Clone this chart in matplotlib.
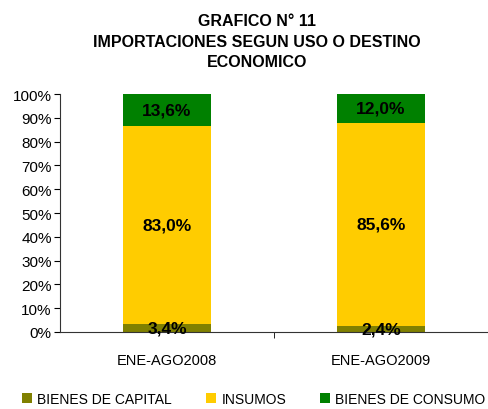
import matplotlib
matplotlib.use("Agg")
import matplotlib.pyplot as plt
import numpy as np

plt.rcParams['font.family'] = ['Liberation Sans', 'DejaVu Sans']

categories = ["ENE-AGO2008", "ENE-AGO2009"]
series = ["BIENES DE CAPITAL", "INSUMOS", "BIENES DE CONSUMO"]
capital = [3.4, 2.4]
insumos = [83.0, 85.6]
consumo = [13.6, 12.0]
colors = ["#808000", "#FFCC00", "#008000"]
yticks = [0, 10, 20, 30, 40, 50, 60, 70, 80, 90, 100]

fig = plt.figure(figsize=(4.88, 4.10), dpi=100)
ax = fig.add_axes([0.123, 0.188, 0.877, 0.58])

x = np.arange(len(categories))
bottom = np.zeros(len(categories))
for name, vals, c in zip(series, [capital, insumos, consumo], colors):
    vals = np.array(vals)
    ax.bar(x, vals, width=0.41, bottom=bottom, color=c, label=name)
    for xi, b, v in zip(x, bottom, vals):
        ax.text(xi, b + v / 2, f"{v:.1f}%".replace(".", ","), ha="center", va="center",
                fontsize=12.5, fontweight="bold", color="black")
    bottom += vals

ax.set_xlim(-0.5, 1.5)
ax.set_ylim(0, 100)
ax.set_yticks(yticks)
ax.set_yticklabels([f"{t}%" for t in yticks], fontsize=11)
ax.set_xticks([0.5], minor=True)
ax.set_xticks(x)
ax.set_xticklabels(categories, fontsize=10.5)
ax.tick_params(axis="x", which="major", length=0, pad=15)
ax.tick_params(axis="x", which="minor", length=4, direction="out")
ax.tick_params(axis="y", length=4, direction="out", pad=2)
for s in ["top", "right"]:
    ax.spines[s].set_visible(False)
ax.spines["left"].set_color("#333333")
ax.spines["bottom"].set_color("#333333")

fig.text(0.527, 0.965, "GRAFICO N° 11\nIMPORTACIONES SEGUN USO O DESTINO\nECONOMICO",
         ha="center", va="top", fontsize=11.5, fontweight="bold", linespacing=1.45)

handles, labels = ax.get_legend_handles_labels()
fig.legend(handles, labels, loc="lower center", bbox_to_anchor=(0.52, -0.022), ncol=3,
           frameon=False, fontsize=10, handlelength=0.7, handleheight=0.7,
           columnspacing=2.45, handletextpad=0.4)

fig.savefig("out.png", dpi=100)
